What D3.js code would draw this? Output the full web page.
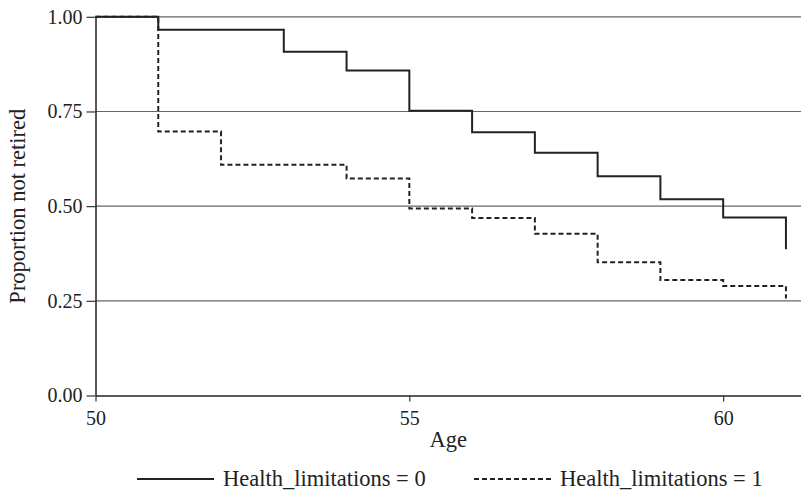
<!DOCTYPE html>
<html lang="en">
<head>
    <meta charset="UTF-8">
    <title>Proportion not retired by age</title>
    <script src="https://d3js.org/d3.v7.min.js"></script>
    <style>
        body{
            margin:0;
            background-color:white;
        }
        svg{
            display:block;
        }
    </style>
</head>
<body>
    <script>
        // step points (age where the curve drops, proportion after the drop)
        const agesNoLimit = [50,51,53,54,55,56,57,58,59,60,61];
        const propNoLimit = [1.00,0.966,0.908,0.858,0.752,0.695,0.641,0.579,0.518,0.470,0.386];
        const agesLimit = [50,51,52,54,55,56,57,58,59,60,61];
        const propLimit = [1.00,0.697,0.609,0.573,0.494,0.469,0.427,0.352,0.305,0.289,0.256];
        const yTicks = [0,0.25,0.5,0.75,1];
        const xTicks = [50,55,60];
        const seriesNames = ["Health_limitations = 0","Health_limitations = 1"];

        const w = 801;
        const h = 492;
        const margin = {left:95.5,right:0,top:16.8,bottom:96.5};
        const serif = "'Liberation Serif'";

        const svg = d3.select("body").append("svg").attr("width",w).attr("height",h);

        const xScale = d3.scaleLinear().domain([50,61.24]).range([margin.left,w-margin.right]);
        const yScale = d3.scaleLinear().domain([0,1]).range([h-margin.bottom,margin.top]);

        // grid lines
        svg.append("g")
            .selectAll("line")
            .data(yTicks.filter(d => d > 0))
            .enter()
            .append("line")
            .attr("x1",margin.left)
            .attr("x2",w)
            .attr("y1",d => yScale(d))
            .attr("y2",d => yScale(d))
            .attr("stroke","#666")
            .attr("stroke-width",1.2);

        const yaxis = d3.axisLeft(yScale).tickValues(yTicks).tickFormat(d3.format(".2f")).tickSize(9).tickSizeOuter(0);
        const gy = svg.append("g").attr("transform","translate("+margin.left+",0)").call(yaxis);
        gy.select(".domain").attr("stroke","#222").attr("stroke-width",1.5);
        gy.selectAll(".tick line").attr("stroke","#333").attr("stroke-width",1.2);
        gy.selectAll(".tick text").style("font-family",serif).style("font-size","20px").attr("fill","#222").attr("x",-13);

        const xaxis = d3.axisBottom(xScale).tickValues(xTicks).tickSize(6).tickSizeOuter(0);
        const gx = svg.append("g").attr("transform","translate(0,"+(h-margin.bottom)+")").call(xaxis);
        gx.select(".domain").attr("stroke","#222").attr("stroke-width",1.5);
        gx.selectAll(".tick line").attr("stroke","#333").attr("stroke-width",1.2);
        gx.selectAll(".tick text").style("font-family",serif).style("font-size","20px").attr("fill","#222").attr("y",15);

        const line = d3.line().x(d => xScale(d[0])).y(d => yScale(d[1])).curve(d3.curveStepAfter);

        svg.append("path")
            .attr("d",line(d3.zip(agesNoLimit,propNoLimit)))
            .attr("fill","none")
            .attr("stroke","#222")
            .attr("stroke-width",2);

        svg.append("path")
            .attr("d",line(d3.zip(agesLimit,propLimit)))
            .attr("fill","none")
            .attr("stroke","#222")
            .attr("stroke-width",2)
            .attr("stroke-dasharray","5,3");

        // axis titles
        svg.append("text")
            .attr("x",(margin.left+w)/2)
            .attr("y",447)
            .attr("text-anchor","middle")
            .style("font-family",serif)
            .style("font-size","22.5px")
            .attr("fill","#222")
            .text("Age");

        svg.append("text")
            .attr("transform","translate(25,"+yScale(0.5)+") rotate(-90)")
            .attr("text-anchor","middle")
            .style("font-family",serif)
            .style("font-size","22.5px")
            .attr("fill","#222")
            .text("Proportion not retired");

        // legend
        const legendX = [137,474];
        const legend = svg.append("g");
        seriesNames.forEach(function(name,i){
            legend.append("line")
                .attr("x1",legendX[i])
                .attr("x2",legendX[i]+77)
                .attr("y1",479)
                .attr("y2",479)
                .attr("stroke","#222")
                .attr("stroke-width",2)
                .attr("stroke-dasharray",i === 1 ? "5,3" : null);
            legend.append("text")
                .attr("x",legendX[i]+86)
                .attr("y",486)
                .style("font-family",serif)
                .style("font-size","22.5px")
                .attr("fill","#222")
                .text(name);
        });
    </script>
</body>
</html>
